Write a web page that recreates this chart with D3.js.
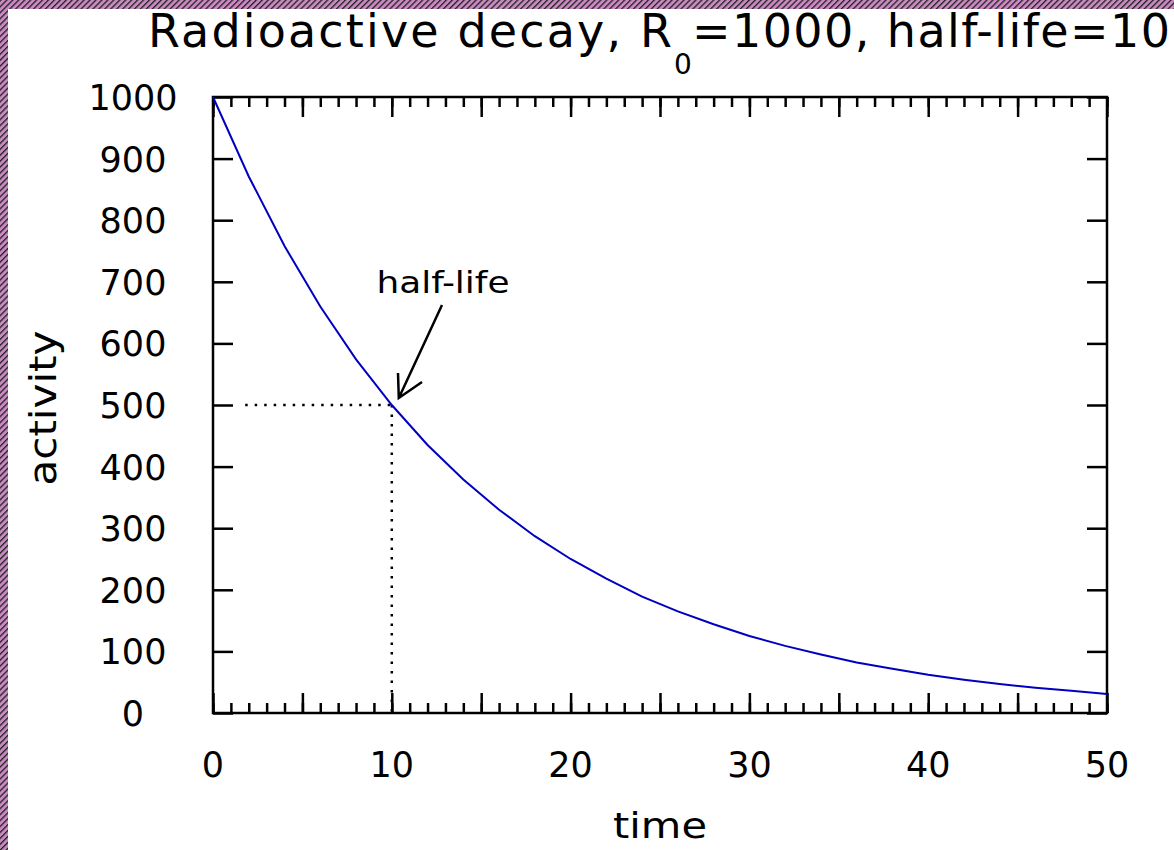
<!DOCTYPE html>
<html>
<head>
<meta charset="utf-8">
<script src="https://cdn.jsdelivr.net/npm/d3@7/dist/d3.min.js"></script>
<style>
html,body{margin:0;padding:0;background:#fff;}
svg{display:block;}
text{font-family:"DejaVu Sans",sans-serif;fill:#000;}
</style>
</head>
<body>
<svg id="chart" width="1174" height="850"></svg>
<script>
// Data
const timeValues = [0,2,4,6,8,10,12,14,16,18,20,22,24,26,28,30,32,34,36,38,40,42,44,46,48,50];
const activityValues = [1000,871,758,660,574,500,435,379,330,287,250,218,189,165,144,125,109,95,82,72,62,54,47,41,36,31];
const xTickLabels = [0,10,20,30,40,50];
const yTickLabels = [0,100,200,300,400,500,600,700,800,900,1000];
const xMinorTicks = d3.range(0,51,1);
const xMajorTicks = d3.range(0,51,5);
const halfLife = {t:10, a:500, startT:1.8};
const titleMain = "Radioactive decay, R";
const titleSub = "0";
const titleRest = "=1000, half-life=10";

const svg = d3.select("#chart");
const W = 1174, H = 850;

// hatched border
const defs = svg.append("defs");
const pat = defs.append("pattern").attr("id","hatch").attr("patternUnits","userSpaceOnUse")
  .attr("width",4.2).attr("height",4.2).attr("patternTransform","rotate(45)");
pat.append("rect").attr("width",4.2).attr("height",4.2).attr("fill","#c88ac0");
pat.append("rect").attr("x",0).attr("width",1.3).attr("height",4.2).attr("fill","#222");
svg.append("rect").attr("x",0).attr("y",0).attr("width",W).attr("height",9).attr("fill","url(#hatch)");
svg.append("rect").attr("x",0).attr("y",0).attr("width",8).attr("height",H).attr("fill","url(#hatch)");

const x = d3.scaleLinear().domain([0,50]).range([213,1107]);
const y = d3.scaleLinear().domain([0,1000]).range([713,97]);

// ticks
function axisTicks(axisFn, yPos, ticks, size){
  const g = svg.append("g").attr("transform",`translate(0,${yPos})`)
    .call(axisFn(x).tickValues(ticks).tickSize(size).tickFormat(""));
  g.select(".domain").remove();
  g.selectAll("line").attr("stroke","#000").attr("stroke-width",2.5);
}
axisTicks(d3.axisBottom, y(0), xMinorTicks, -10);
axisTicks(d3.axisBottom, y(0), xMajorTicks, -20);
axisTicks(d3.axisTop, y(1000), xMinorTicks, -10);
axisTicks(d3.axisTop, y(1000), xMajorTicks, -20);
function yTicks(axisFn, xPos, size){
  const g = svg.append("g").attr("transform",`translate(${xPos},0)`)
    .call(axisFn(y).tickValues(yTickLabels).tickSize(size).tickFormat(""));
  g.select(".domain").remove();
  g.selectAll("line").attr("stroke","#000").attr("stroke-width",2.5);
}
yTicks(d3.axisLeft, x(0), -20);
yTicks(d3.axisRight, x(50), -20);

// frame
svg.append("rect").attr("x",x(0)).attr("y",y(1000)).attr("width",x(50)-x(0)).attr("height",y(0)-y(1000))
  .attr("fill","none").attr("stroke","#000").attr("stroke-width",2.5);

// tick labels
svg.append("g").selectAll("text").data(xTickLabels).join("text")
  .attr("x",d=>x(d)).attr("y",777).attr("text-anchor","middle").attr("font-size",35).text(d=>d);
svg.append("g").selectAll("text").data(yTickLabels).join("text")
  .attr("x",133).attr("y",d=>y(d)+13).attr("text-anchor","middle").attr("font-size",35).text(d=>d);

// axis titles
svg.append("text").attr("x",660).attr("y",838).attr("text-anchor","middle").attr("font-size",36)
  .attr("textLength",94).attr("lengthAdjust","spacingAndGlyphs").text("time");
svg.append("text").attr("transform","translate(56,408) rotate(-90)").attr("text-anchor","middle").attr("font-size",38)
  .attr("textLength",155).attr("lengthAdjust","spacingAndGlyphs").text("activity");

// title
svg.append("text").attr("x",148).attr("y",47).attr("font-size",46)
  .attr("textLength",524).attr("lengthAdjust","spacing").text(titleMain);
svg.append("text").attr("x",674).attr("y",74).attr("font-size",28).text(titleSub);
svg.append("text").attr("x",692).attr("y",47).attr("font-size",46)
  .attr("textLength",478).attr("lengthAdjust","spacing").text(titleRest);

// dotted half-life guides
svg.append("line").attr("x1",x(halfLife.startT)).attr("x2",x(halfLife.t)).attr("y1",y(halfLife.a)).attr("y2",y(halfLife.a))
  .attr("stroke","#000").attr("stroke-width",2.5).attr("stroke-dasharray","2.5,7");
svg.append("line").attr("x1",x(halfLife.t)).attr("x2",x(halfLife.t)).attr("y1",y(halfLife.a)).attr("y2",y(0))
  .attr("stroke","#000").attr("stroke-width",2.5).attr("stroke-dasharray","2.5,7");

// curve
const line = d3.line().x((d,i)=>x(timeValues[i])).y(d=>y(d));
svg.append("path").datum(activityValues).attr("d",line).attr("fill","none")
  .attr("stroke","#0000c0").attr("stroke-width",2);

// annotation
svg.append("text").attr("x",443).attr("y",293).attr("text-anchor","middle").attr("font-size",30)
  .attr("textLength",133).attr("lengthAdjust","spacingAndGlyphs").text("half-life");
const tip = [x(halfLife.t)+7, y(halfLife.a)-7];
svg.append("path").attr("d",`M442,305 L${tip[0]},${tip[1]} M398,373 L${tip[0]},${tip[1]} L422,382`)
  .attr("fill","none").attr("stroke","#000").attr("stroke-width",2.5);
</script>
</body>
</html>
